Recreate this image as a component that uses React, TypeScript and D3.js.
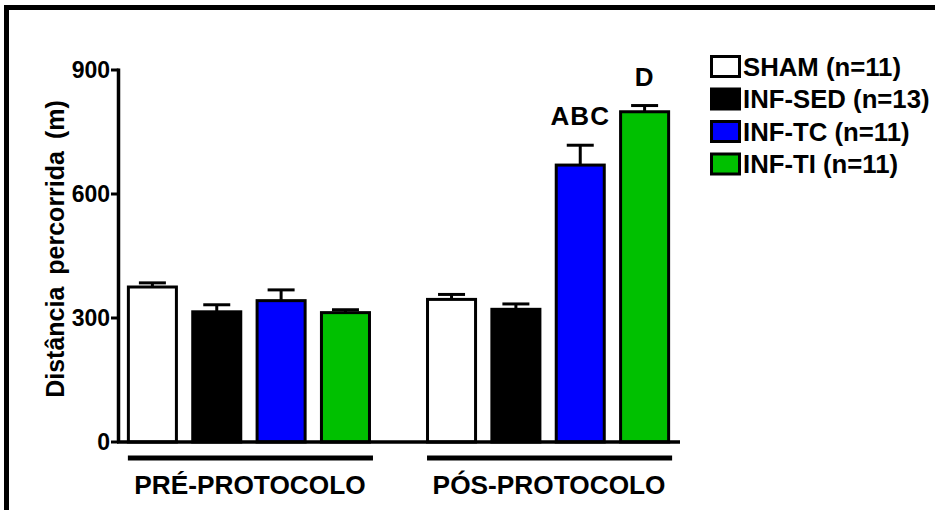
import React from 'react';
import * as d3 from 'd3';

const WIDTH = 935;
const HEIGHT = 510;
const FONT = '"Liberation Sans", Arial, sans-serif';

const groups = ['PRÉ-PROTOCOLO', 'PÓS-PROTOCOLO'];
const seriesNames = ['SHAM (n=11)', 'INF-SED (n=13)', 'INF-TC (n=11)', 'INF-TI (n=11)'];
const seriesColors = ['#ffffff', '#000000', '#0000ff', '#00c000'];
const preMeans = [375, 315, 342, 313];
const preErrors = [10, 17, 26, 7];
const postMeans = [345, 321, 670, 799];
const postErrors = [12, 13, 48, 15];
const postLetters = ['', '', 'ABC', 'D'];
const yTicks = [0, 300, 600, 900];

const groupMeans = [preMeans, postMeans];
const groupErrors = [preErrors, postErrors];
const groupLetters = [['', '', '', ''], postLetters];

// bold label, optionally stretched along its direction
const Label = ({ x, y, sx = 1, rotate = 0, children, ...rest }: any) => (
  <g transform={`translate(${x},${y}) rotate(${rotate}) scale(${sx},1)`}>
    <text fontFamily={FONT} fontWeight="bold" fill="#000" {...rest}>
      {children}
    </text>
  </g>
);

const App = () => {
  const y = d3.scaleLinear().domain([0, 900]).range([442, 70]);

  const xGroup = d3
    .scaleBand()
    .domain(groups)
    .range([120, 677])
    .paddingInner(0.184)
    .paddingOuter(0.023);

  const xSeries = d3
    .scaleBand()
    .domain(seriesNames)
    .range([0, xGroup.bandwidth()])
    .paddingInner(0.207)
    .paddingOuter(0);

  const bw = xSeries.bandwidth();
  const axisX = 118.5;
  const capHalf = 13.5;

  return (
    <svg
      width={WIDTH}
      height={HEIGHT}
      style={{ position: 'absolute', left: 0, top: 0, background: '#fff' }}
    >
      {/* outer frame, cut at right/bottom */}
      <rect x={6.5} y={7.5} width={1000} height={1000} fill="none" stroke="#000" strokeWidth={5} />

      {/* bars + error bars */}
      {groups.map((g, gi) => (
        <g key={g} transform={`translate(${xGroup(g)},0)`}>
          {seriesNames.map((s, si) => {
            const x0 = xSeries(s) as number;
            const m = groupMeans[gi][si];
            const e = groupErrors[gi][si];
            const cx = x0 + bw / 2;
            return (
              <g key={s}>
                <line x1={cx} x2={cx} y1={y(m)} y2={y(m + e)} stroke="#000" strokeWidth={3} />
                <line
                  x1={cx - capHalf}
                  x2={cx + capHalf}
                  y1={y(m + e)}
                  y2={y(m + e)}
                  stroke="#000"
                  strokeWidth={3}
                />
                <rect
                  x={x0 + 1.5}
                  y={y(m)}
                  width={bw - 3}
                  height={y(0) - y(m)}
                  fill={seriesColors[si]}
                  stroke="#000"
                  strokeWidth={3}
                />
                {groupLetters[gi][si] && (
                  <Label
                    x={cx}
                    y={y(m + e) - 20}
                    textAnchor="middle"
                    fontSize={26}
                    letterSpacing={1}
                  >
                    {groupLetters[gi][si]}
                  </Label>
                )}
              </g>
            );
          })}
          {/* group bar + label */}
          <line
            x1={1}
            x2={xGroup.bandwidth() + 2}
            y1={458}
            y2={458}
            stroke="#000"
            strokeWidth={5}
          />
          <Label x={xGroup.bandwidth() / 2 + 1} y={494} textAnchor="middle" fontSize={26} sx={1.01}>
            {g}
          </Label>
        </g>
      ))}

      {/* axes */}
      <line x1={117} x2={680} y1={y(0)} y2={y(0)} stroke="#000" strokeWidth={3.5} />
      <line x1={axisX} x2={axisX} y1={y(900) - 1.5} y2={y(0)} stroke="#000" strokeWidth={3.5} />
      {yTicks.map((t) => (
        <g key={t}>
          <line x1={111} x2={axisX} y1={y(t)} y2={y(t)} stroke="#000" strokeWidth={3} />
          <Label x={110} y={y(t)} dy="0.36em" textAnchor="end" fontSize={23}>
            {t}
          </Label>
        </g>
      ))}
      <Label x={64} y={249} rotate={-90} textAnchor="middle" fontSize={25} wordSpacing={5}>
        Distância percorrida (m)
      </Label>

      {/* legend */}
      {seriesNames.map((s, i) => {
        const top = 55 + i * 32.5;
        return (
          <g key={s}>
            <rect
              x={711.5}
              y={top + 1.5}
              width={28}
              height={20}
              fill={seriesColors[i]}
              stroke="#000"
              strokeWidth={3}
            />
            <Label x={743} y={top + 11.5} dy="0.36em" sx={0.99} fontSize={26}>
              {s}
            </Label>
          </g>
        );
      })}
    </svg>
  );
};

export default App;
